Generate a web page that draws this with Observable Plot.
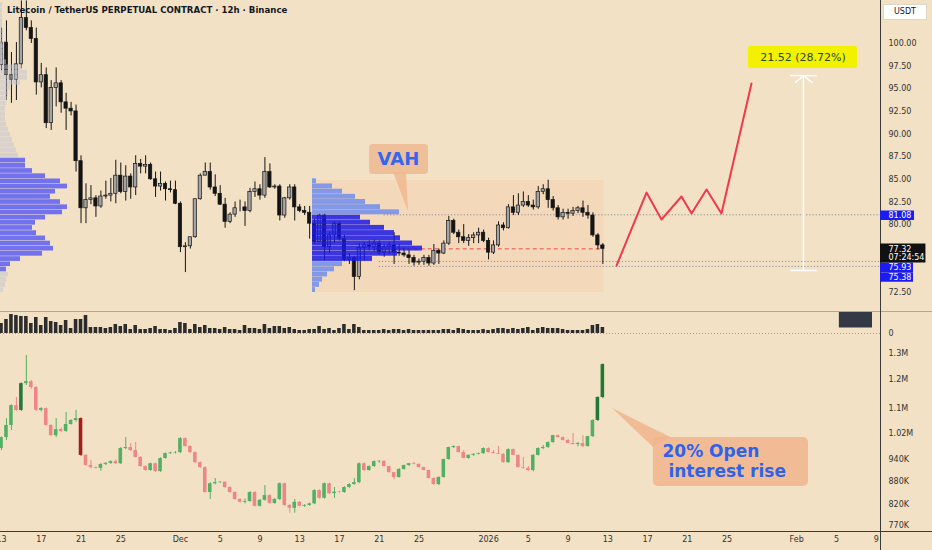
<!DOCTYPE html>
<html>
<head>
<meta charset="utf-8">
<script src="https://cdn.jsdelivr.net/npm/d3@7"></script>
<script src="https://cdn.jsdelivr.net/npm/@observablehq/plot@0.6"></script>
<style>
html,body{margin:0;padding:0;background:#f2e1c5;}
#wrap{position:relative;width:932px;height:550px;overflow:hidden;background:#f2e1c5;font-family:"DejaVu Sans",sans-serif;}
#wrap svg{position:absolute;left:0;}
#title{position:absolute;left:7px;top:5px;font:bold 8.6px "DejaVu Sans";color:#131722;z-index:10;white-space:nowrap;}
#usdt{position:absolute;left:883px;top:4px;width:44px;height:16px;background:#fff;border:1px solid #e0d6c8;box-sizing:border-box;font:8px "DejaVu Sans";color:#131722;text-align:center;line-height:14px;z-index:10;}
.hl{position:absolute;left:0;width:932px;height:1px;}
.vl{position:absolute;top:0;height:550px;width:1px;}
</style>
</head>
<body>
<div id="wrap">
  <div class="hl" style="top:311px;background:#b3a692"></div>
  <div class="hl" style="top:531px;background:#3b3b3b"></div>
  <div class="vl" style="left:880px;background:#3b3b3b"></div>
  <div id="title">Litecoin / TetherUS PERPETUAL CONTRACT · 12h · Binance</div>
  <div id="usdt">USDT</div>
</div>
<script>
// ---------- data ----------
const candleStart = "2025-11-13T00:00:00Z";
const candleHours = 12;

const priceOpen = [97.6,100.1,96.5,96.0,97.7,102.8,101.7,100.5,95.7,96.5,
91.2,95.1,95.6,93.5,92.8,92.5,87.0,81.8,82.7,82.9,
82.0,83.1,83.2,83.4,85.4,83.6,85.3,84.1,86.7,86.4,
86.6,85.0,84.2,84.5,83.9,83.8,82.3,77.5,77.6,78.6,
82.8,85.4,85.8,84.1,83.4,82.2,80.3,81.1,81.8,81.9,
81.5,83.6,83.9,83.2,85.8,84.1,84.2,81.0,82.9,84.1,
81.9,81.5,81.3,80.1,78.1,81.0,77.5,78.8,80.1,78.4,
76.1,76.3,74.2,77.4,77.7,77.5,77.9,76.9,77.5,77.7,
76.9,76.8,76.6,76.3,75.8,
75.9,76.3,75.7,77.1,76.8,77.9,
80.4,79.1,78.6,78.2,78.5,78.8,79.1,78.2,76.9,77.7,
79.9,79.6,81.9,81.3,82.1,82.5,82.1,81.9,83.6,83.9,
82.7,81.8,80.8,81.3,81.2,81.5,81.8,81.3,81.0,78.8,77.7];
const priceHigh = [101.7,102.5,99.0,100.1,104.7,104.7,102.5,101.7,97.8,97.3,
95.9,97.3,95.9,94.5,93.5,93.2,87.6,84.5,84.3,83.2,
83.7,84.8,85.1,87.1,86.8,86.5,85.6,87.6,87.2,87.6,
86.8,85.8,85.8,84.7,84.8,84.8,82.5,78.0,78.6,82.8,
85.6,86.8,86.8,85.5,84.3,82.9,81.3,82.5,82.7,82.5,
84.0,84.7,84.4,87.4,86.7,84.4,84.4,83.0,84.4,84.4,
82.2,82.0,82.0,80.6,81.2,81.2,79.2,80.3,80.3,78.8,
76.8,76.5,77.9,78.0,78.2,78.3,78.2,77.8,78.0,79.1,
77.8,77.4,77.2,76.6,76.2,
76.6,76.6,77.8,77.3,78.2,80.9,
80.6,79.4,80.0,78.9,79.1,79.6,79.4,78.5,78.2,80.3,
80.2,82.2,83.2,83.4,83.6,83.2,82.7,84.2,84.4,84.9,
83.1,82.1,81.7,81.7,81.9,82.0,82.6,82.1,81.3,79.0,77.9];
const priceLow = [97.0,93.7,93.4,93.7,97.2,101.4,100.0,94.3,95.1,90.6,
90.4,93.0,92.3,90.4,92.0,85.8,80.1,80.1,82.2,80.8,
81.8,82.8,82.5,82.3,83.4,82.6,82.8,83.2,85.6,85.6,
84.9,83.0,83.7,82.6,83.5,82.2,76.9,74.7,77.3,78.5,
82.7,85.4,83.8,83.1,82.1,79.6,80.1,80.8,81.4,79.8,
81.3,83.0,82.7,82.9,84.0,83.9,80.4,80.7,82.7,80.4,
81.3,81.0,78.4,77.8,78.0,76.0,76.8,77.9,78.2,75.9,
75.6,72.7,73.9,76.0,77.1,77.0,76.6,76.4,76.7,75.6,
76.5,76.4,75.6,75.4,75.5,
75.5,75.4,75.5,75.6,76.7,77.7,
78.9,77.9,77.9,77.6,77.9,77.9,78.0,76.1,76.7,77.5,
79.3,79.5,81.0,81.0,81.9,81.9,81.6,81.7,83.3,81.8,
81.5,80.5,80.5,80.6,80.9,81.2,80.8,80.6,78.6,77.2,75.6];
const priceClose = [100.1,96.5,96.0,97.7,102.8,101.7,100.5,95.7,96.5,91.2,
95.1,95.6,93.5,92.8,92.5,87.0,81.8,82.7,82.9,82.0,
83.1,83.2,83.4,85.4,83.6,85.3,84.1,86.7,86.4,86.6,
85.0,84.2,84.5,83.9,83.8,82.3,77.5,77.6,78.6,82.8,
85.4,85.8,84.1,83.4,82.2,80.3,81.1,81.8,81.8,81.5,
83.6,83.9,83.2,85.8,84.1,84.2,81.0,82.9,84.1,81.9,
81.5,81.3,80.1,78.1,81.0,77.5,78.8,80.1,78.4,76.1,
76.3,74.2,77.4,77.7,77.5,77.9,76.9,77.5,77.7,76.9,
76.8,76.6,76.3,75.8,75.9,
76.3,75.7,77.1,76.8,77.9,80.4,
79.1,78.6,78.2,78.5,78.8,79.1,78.2,76.9,77.7,79.9,
79.6,81.9,81.3,82.1,82.5,82.1,81.9,83.6,83.9,82.7,
81.8,80.8,81.3,81.2,81.5,81.8,81.3,81.0,78.8,77.7,77.32];

const volume = [10,14,19,18,17,17,10,16,8,16,
12,11,8,13,5,14,14,18,6,6,
6,5,6,9,7,9,4,8,4,4,
5,7,4,4,3,5,11,10,4,9,
6,8,5,5,4,6,4,4,3,8,
5,5,4,9,5,7,7,5,6,4,
3,3,4,
4,7,4,5,3,5,9,4,9,6,
3,3,3,3,4,3,4,4,3,4,
3,3,3,3,3,3,4,4,3,5,
4,3,3,3,4,3,4,5,5,4,
5,4,5,6,3,5,6,5,5,5,
4,3,3,3,3,4,8,9,6];

const oiOpen = [973,1006,1044,1109,1093,1186,1193,1172,1093,1099,
1044,1012,1031,1025,1047,1060,1066,953,924,918,
916,927,930,935,929,973,976,967,947,921,
910,929,907,944,958,960,961,1003,979,961,
932,918,851,874,877,878,864,851,833,826,
828,851,816,831,843,823,833,874,818,811,
826,816,818,822,856,836,874,848,852,851,
864,872,877,929,910,921,935,936,921,904,
891,913,924,929,927,918,910,888,872,891,
941,976,979,961,944,953,956,958,973,961,
958,956,932,970,953,918,916,910,953,973,
976,991,1012,1006,997,988,985,988,979,1009,
1060,1137];
const oiHigh = [1008,1066,1112,1137,1188,1292,1197,1175,1102,1101,
1046,1066,1036,1086,1062,1093,1068,955,938,920,
929,932,937,940,976,1006,988,991,949,923,
931,931,946,960,962,964,1006,1005,981,963,
934,920,877,888,880,879,866,853,835,834,
853,853,833,869,845,835,876,876,820,833,
828,820,824,858,858,876,876,864,854,866,
874,888,931,931,923,937,938,937,922,905,
915,925,930,933,929,920,911,890,892,942,
977,981,980,967,954,957,960,975,975,967,
979,958,972,972,954,947,921,955,975,982,
993,1013,1014,1008,1001,1019,991,1012,1010,1062,
1139,1259];
const oiLow = [967,997,1028,1090,1090,1179,1165,1090,1088,1042,
1010,1006,1022,1022,1045,1055,950,922,915,914,
908,924,927,927,927,970,964,945,919,908,
908,905,905,942,956,957,958,977,959,930,
916,849,833,871,875,862,849,831,824,822,
826,814,814,829,821,821,830,816,799,799,
814,813,816,820,834,834,846,836,849,849,
862,870,874,908,908,919,930,920,903,885,
889,911,921,926,917,909,887,870,869,889,
939,973,960,943,942,950,954,956,960,957,
955,931,930,952,917,914,908,906,951,970,
974,989,1005,996,987,984,978,976,977,1006,
1057,1133];
const oiClose = [1006,1044,1109,1093,1186,1193,1172,1093,1099,1044,
1012,1031,1025,1047,1060,1066,953,924,918,916,
927,930,935,929,973,976,967,947,921,910,
929,907,944,958,960,961,1003,979,961,932,
918,851,874,877,878,864,851,833,826,828,
851,816,831,843,823,833,874,818,811,826,
816,818,822,856,836,874,848,852,851,864,
872,877,929,910,921,935,936,921,904,891,
913,924,929,927,918,910,888,872,891,941,
976,979,961,944,953,956,958,973,961,958,
956,932,970,953,918,916,910,953,973,976,
991,1012,1006,997,988,985,988,979,1009,1060,
1137,1257];
const oiStrong = [4,16,120,121];

// volume-profile rows (price boundaries) and volumes
const profileLevels = [72.50,73.07,73.64,74.22,74.79,75.36,75.93,76.51,77.08,77.65,
78.22,78.79,79.37,79.94,80.51,81.08,81.66,82.23,82.80,83.37,
83.94,84.52,85.09,85.66,86.23,86.81,87.38,87.95,88.52,89.09,
89.67,90.24,90.81,91.38,91.95,92.53,93.10,93.67,94.24,94.82,
95.39,95.96,96.53,97.10,97.68,98.25,98.82,99.39,99.97,100.54,
101.11,101.68,102.25,102.83,103.40,103.97,104.54];
const leftProfileVol = [3,5,6,8,6,10,20,42,53,50,
45,36,32,35,45,62,67,60,50,55,
67,60,45,32,25,25,18,16,14,12,
10,8,6,5,5,5,6,7,8,10,
20,27,27,22,6,4,3,3,3,3,
3,2,2,2,2,2];
const leftValueArea = [74.79, 87.38];
const midProfileVol = [3,7,10,15,22,30,60,85,110,100,88,82,72,58,48,87,68,53,43,30,20,4];
const midValueArea = [75.93, 81.08];
const rangeBox = {start: "2025-12-14T07:00:00Z", end: "2026-01-12T14:30:00Z", low: 72.5, high: 84.87};

const lastPrice = 77.32;
const countdown = "07:24:54";
const levelLines = [
  {price: 81.08, from: "2025-12-21T12:00:00Z"},
  {price: 75.93, from: "2025-12-21T00:00:00Z"},
  {price: 75.38, from: "2025-12-21T00:00:00Z"}
];
const priceLineFrom = "2025-12-21T00:00:00Z";

const projDates = ["2026-01-13T21:00:00Z","2026-01-16T21:20:00Z","2026-01-18T09:35:00Z","2026-01-20T09:50:00Z","2026-01-21T10:00:00Z","2026-01-22T22:20:00Z","2026-01-24T10:20:00Z","2026-01-27T10:50:00Z"];
const projPrices = [75.48,83.54,80.56,83.10,81.22,83.87,81.22,95.58];

const measureFrom = 74.93, measureTo = 96.45;
const measureText = "21.52 (28.72%)";

const priceTicks = [100, 97.5, 95, 92.5, 90, 87.5, 85, 82.5, 80, 72.5];
const oiTicks = [1300, 1200, 1100, 1020, 940, 880, 820, 770];
const oiTickLabels = ["1.3M","1.2M","1.1M","1.02M","940K","880K","820K","770K"];
const xTickDates = ["2025-11-13","2025-11-17","2025-11-21","2025-11-25","2025-12-01","2025-12-05","2025-12-09","2025-12-13","2025-12-17","2025-12-21","2025-12-25","2026-01-01","2026-01-05","2026-01-09","2026-01-13","2026-01-17","2026-01-21","2026-01-25","2026-02-01","2026-02-05","2026-02-09"];
const xTickLabels = ["13","17","21","25","Dec","5","9","13","17","21","25","2026","5","9","13","17","21","25","Feb","5","9"];

// ---------- build ----------
const D = s => new Date(s);
const H = 3600e3;
const t0 = Date.parse(candleStart);
const candles = priceOpen.map((o, i) => ({
  t: new Date(t0 + i * candleHours * H), o, h: priceHigh[i], l: priceLow[i], c: priceClose[i], v: volume[i]
}));
const oi = oiOpen.map((o, i) => ({
  t: new Date(t0 + i * candleHours * H), o, h: oiHigh[i], l: oiLow[i], c: oiClose[i], strong: oiStrong.includes(i)
}));
const oiColor = d => d.c >= d.o ? (d.strong ? "#1f7a35" : "#52b064") : (d.strong ? "#a51c1c" : "#ef8686");

const xDomain = [D("2025-11-12T21:35:00Z"), D("2026-02-09T10:20:00Z")];
const priceDomain = [70.40, 104.749];
const style = {background: "transparent", fontFamily: "DejaVu Sans", fontSize: "8px", color: "#333", overflow: "visible"};
const common = {width: 932, marginLeft: 0, marginRight: 52, marginTop: 0, style};
const xHidden = {type: "utc", domain: xDomain, axis: null};
const bx1 = d => new Date(+d.t - 4 * H), bx2 = d => new Date(+d.t + 4 * H);

const leftRows = leftProfileVol.map((v, k) => ({lo: profileLevels[k], hi: profileLevels[k + 1], v,
  va: profileLevels[k] >= leftValueArea[0] - 1e-6 && profileLevels[k + 1] <= leftValueArea[1] + 1e-6}));
const midRows = midProfileVol.map((v, k) => ({lo: profileLevels[k], hi: profileLevels[k + 1], v,
  va: profileLevels[k] >= midValueArea[0] - 1e-6 && profileLevels[k + 1] <= midValueArea[1] + 1e-6}));

const proj = projDates.map((t, i) => ({t: D(t), p: projPrices[i]}));
const axisEnd = xDomain[1];
const tags = [
  {price: 81.08, label: "81.08", fill: "#1c1cf0", to: D("2026-02-12T20:30:00Z"), dy: 0.5},
  {price: 75.93, label: "75.93", fill: "#1c1cf0", to: D("2026-02-12T18:00:00Z"), dy: 5.8},
  {price: 75.38, label: "75.38", fill: "#1c1cf0", to: D("2026-02-12T18:00:00Z"), dy: 10.6}
];

const wrap = document.getElementById("wrap");
function place(svg, top) { svg.style.top = top + "px"; wrap.appendChild(svg); }

// price pane
const pricePlot = Plot.plot({
  ...common, height: 311, marginBottom: 0,
  x: xHidden,
  y: {domain: priceDomain, axis: "right", ticks: priceTicks, tickFormat: d3.format(".2f"), tickSize: 0, tickPadding: 8, label: null},
  marks: [
    Plot.rect([rangeBox], {x1: d => D(d.start), x2: d => D(d.end), y1: "low", y2: "high", fill: "#f7c9a5", fillOpacity: 0.35}),
    Plot.ruleY(levelLines, {y: "price", x1: d => D(d.from), x2: () => axisEnd, stroke: "#8c8c9c", strokeWidth: 1, strokeDasharray: "1.2,2"}),
    Plot.ruleY([lastPrice], {x1: () => D(priceLineFrom), x2: () => candles[candles.length - 1].t, stroke: "#ee4a4a", strokeWidth: 1, strokeDasharray: "4,3"}),
    Plot.ruleX(candles, {x: "t", y1: "l", y2: "h", stroke: "#151515", strokeWidth: 1}),
    Plot.rect(candles, {x1: bx1, x2: bx2, y1: "o", y2: "c", fill: d => d.c >= d.o ? "#a3a3a3" : "#141414", stroke: "#151515", strokeWidth: 0.7}),
    // projection
    Plot.line(proj, {x: "t", y: "p", stroke: "#f03a4c", strokeWidth: 2}),
    // measure
    Plot.ruleX([D("2026-02-01T16:20:00Z")], {y1: measureFrom, y2: measureTo, stroke: "#ffffff", strokeWidth: 1.5}),
    Plot.ruleY([measureFrom, measureTo], {x1: () => D("2026-01-31T09:30:00Z"), x2: () => D("2026-02-03T01:30:00Z"), stroke: "#ffffff", strokeWidth: 1.5}),
    Plot.line([{t: D("2026-01-31T21:45:00Z"), p: 95.73}, {t: D("2026-02-01T16:20:00Z"), p: measureTo}, {t: D("2026-02-02T12:25:00Z"), p: 95.73}], {x: "t", y: "p", stroke: "#ffffff", strokeWidth: 1.5}),
    Plot.rect([{a: D("2026-01-27T03:40:00Z"), b: D("2026-02-07T02:50:00Z")}], {x1: "a", x2: "b", y1: () => 97.24, y2: () => 99.67, fill: "#f2f200", rx: 2}),
    Plot.text([measureText], {x: () => D("2026-02-01T15:00:00Z"), y: () => 98.45, text: d => d, fontSize: 11, fill: "#2d4a1e"}),
    // VAH callout
    Plot.areaX([{y: 85.75, x1: D("2025-12-22T10:30:00Z"), x2: D("2025-12-23T17:50:00Z")}, {y: 81.45, x1: D("2025-12-23T22:50:00Z"), x2: D("2025-12-23T22:50:00Z")}], {y: "y", x1: "x1", x2: "x2", fill: "#efb991", fillOpacity: 0.85}),
    Plot.rect([{a: D("2025-12-20T00:40:00Z"), b: D("2025-12-25T23:00:00Z")}], {x1: "a", x2: "b", y1: () => 85.53, y2: () => 88.85, fill: "#efb991", fillOpacity: 0.85, rx: 4}),
    Plot.text(["VAH"], {x: () => D("2025-12-22T22:30:00Z"), y: () => 87.19, text: d => d, fontSize: 18, fontWeight: "bold", fill: "#3466ee"})
  ]
});
place(pricePlot, 0);

// volume profiles overlay
const leftProfile = Plot.plot({
  width: 932, height: 311, margin: 0, style,
  x: {domain: [0, 100], range: [0, 100], axis: null},
  y: {domain: priceDomain, axis: null},
  marks: [Plot.rect(leftRows, {x1: 0, x2: "v", y1: "lo", y2: "hi", fill: d => d.va ? "#6c6cf0" : "#c4c4d0", fillOpacity: d => d.va ? 0.95 : 0.55, insetTop: 0.5})]
});
place(leftProfile, 0);
const midProfile = Plot.plot({
  width: 932, height: 311, margin: 0, style,
  x: {domain: [0, 100], range: [312, 412], axis: null},
  y: {domain: priceDomain, axis: null},
  marks: [Plot.rect(midRows, {x1: 0, x2: "v", y1: "lo", y2: "hi", fill: d => d.va ? "#1a1ae6" : "#6f8ef0", fillOpacity: 0.85, insetTop: 0.3})]
});
place(midProfile, 0);

// right-axis price tags
const tagPlot = Plot.plot({
  ...common, height: 311, marginBottom: 0,
  x: xHidden, y: {domain: priceDomain, axis: null},
  marks: [
    ...tags.map(t => Plot.ruleY([t], {y: "price", x1: () => axisEnd, x2: "to", stroke: t.fill, strokeWidth: 9.5, dy: t.dy})),
    ...tags.map(t => Plot.text([t], {y: "price", frameAnchor: "right", dx: 8, dy: t.dy, text: "label", textAnchor: "start", fill: "#ffffff", fontSize: 8})),
    Plot.ruleY([lastPrice], {x1: () => axisEnd, x2: () => D("2026-02-14T00:00:00Z"), stroke: "#111111", strokeWidth: 19, dy: 4.1}),
    Plot.text([lastPrice.toFixed(2) + "\n" + countdown], {y: () => lastPrice, frameAnchor: "right", dx: 8, dy: 4.6, text: d => d, textAnchor: "start", lineAnchor: "middle", lineHeight: 1.06, fill: "#ffffff", fontSize: 8})
  ]
});
place(tagPlot, 0);

// volume pane
const volPlot = Plot.plot({
  ...common, height: 22, marginBottom: 0,
  x: xHidden,
  y: {domain: [0, 22], axis: "right", ticks: [0], tickFormat: () => "0", tickSize: 0, tickPadding: 8, label: null},
  marks: [
    Plot.ruleY([0], {stroke: "#9b9b9b", strokeDasharray: "1,2"}),
    Plot.rect(candles, {x1: d => new Date(+d.t - 4.3 * H), x2: d => new Date(+d.t + 4.3 * H), y1: 0, y2: "v", fill: "#2c2c2c"}),
    Plot.rect([{a: D("2026-02-05T07:00:00Z"), b: D("2026-02-08T15:00:00Z")}], {x1: "a", x2: "b", y1: () => 5.5, y2: () => 21, fill: "#333a46"})
  ]
});
place(volPlot, 311);

// open-interest pane
const tickMap = new Map(xTickDates.map((d, i) => [Date.parse(d + "T00:00:00Z"), xTickLabels[i]]));
const oiTickRows = oiTicks.map((v, i) => ({v, label: oiTickLabels[i]}));
const oiNote = [
  {text: "20% Open", t: "2026-01-18T12:00:00Z", v: 965},
  {text: "\u00a0interest rise", t: "2026-01-18T12:00:00Z", v: 907}
];
const oiPlot = Plot.plot({
  ...common, height: 216, marginBottom: 19,
  x: {type: "utc", domain: xDomain, ticks: xTickDates.map(d => D(d + "T00:00:00Z")), tickFormat: d => tickMap.get(+d), tickSize: 0, tickPadding: 5, label: null},
  y: {type: "log", domain: [755.6, 1377.5], axis: null},
  marks: [
    Plot.text(oiTickRows, {y: "v", text: "label", frameAnchor: "right", dx: 8, textAnchor: "start", fill: "#333", fontSize: 8}),
    Plot.ruleX(oi, {x: "t", y1: "l", y2: "h", stroke: oiColor, strokeWidth: 1}),
    Plot.rect(oi, {x1: d => new Date(+d.t - 4.3 * H), x2: d => new Date(+d.t + 4.3 * H), y1: "o", y2: "c", fill: oiColor}),
    Plot.areaY([{t: D("2026-01-13T11:15:00Z"), lo: 1099, hi: 1099}, {t: D("2026-01-17T14:10:00Z"), lo: 976, hi: 1033}, {t: D("2026-01-19T09:00:00Z"), lo: 1006, hi: 1006}], {x: "t", y1: "lo", y2: "hi", fill: "#f1b58c", fillOpacity: 0.85}),
    Plot.rect([{a: D("2026-01-17T14:00:00Z"), b: D("2026-02-02T04:30:00Z")}], {x1: "a", x2: "b", y1: () => 867, y2: () => 1006, fill: "#f1b58c", fillOpacity: 0.85, rx: 5}),
    Plot.text(oiNote, {x: d => D(d.t), y: "v", text: "text", textAnchor: "start", fontSize: 17, fontWeight: "bold", fill: "#2f62ea"})
  ]
});
place(oiPlot, 334);
</script>
</body>
</html>
